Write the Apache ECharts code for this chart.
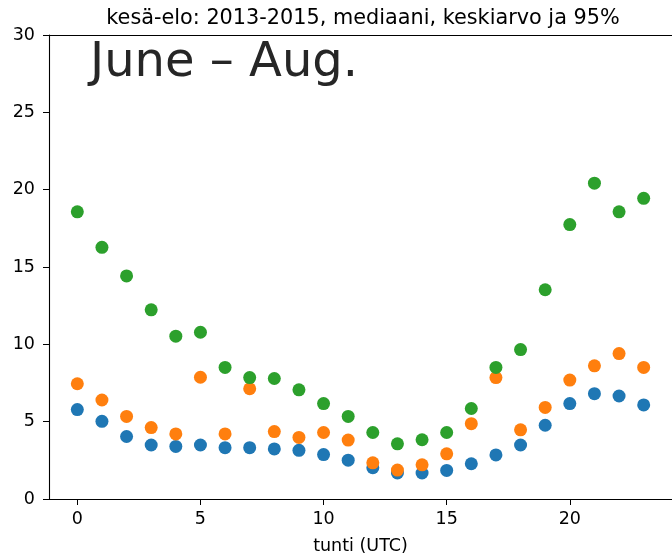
<!DOCTYPE html>
<html>
<head>
<meta charset="utf-8">
<script src="https://cdn.jsdelivr.net/npm/echarts@6/dist/echarts.min.js"></script>
<style>
  html, body { margin: 0; padding: 0; background: #fff; }
  #chart { width: 672px; height: 560px; }
</style>
</head>
<body>
<div id="chart"></div>
<script>
// Hour of day (UTC)
const hours = [0,1,2,3,4,5,6,7,8,9,10,11,12,13,14,15,16,17,18,19,20,21,22,23];

// Median per hour
const median = [5.78,5.02,4.04,3.49,3.40,3.49,3.32,3.32,3.24,3.15,2.87,2.51,
                 2.02,1.68,1.68,1.85,2.28,2.85,3.49,4.77,6.17,6.81,6.66,6.08];

// Mean per hour
const mean = [7.45,6.40,5.34,4.62,4.21,7.87,4.21,7.13,4.36,3.98,4.30,3.81,
              2.34,1.87,2.21,2.92,4.87,7.85,4.47,5.92,7.69,8.61,9.40,8.51];

// 95th percentile per hour
const p95 = [18.57,16.27,14.42,12.23,10.53,10.78,8.51,7.85,7.79,7.06,6.17,5.34,
             4.30,3.57,3.83,4.30,5.85,8.51,9.66,13.53,17.74,20.42,18.57,19.44];

const xTicks = [0,5,10,15,20];
const yTicks = [0,5,10,15,20,25,30];

const titleText = 'kesä-elo: 2013-2015, mediaani, keskiarvo ja 95%';
const periodText = 'June – Aug.';
const xName = 'tunti (UTC)';

const FONT = '"DejaVu Sans", sans-serif';
const xMin = -1.15, xMax = 24.15;

const chart = echarts.init(document.getElementById('chart'), null, { renderer: 'canvas' });

const pts = arr => hours.map((h, i) => [h, arr[i]]);
const scatter = (data, color) => ({
  type: 'scatter',
  data: data,
  symbol: 'circle',
  symbolSize: 13,
  itemStyle: { color: color, opacity: 1 },
  emphasis: { disabled: true },
  silent: true,
  xAxisIndex: 0,
  yAxisIndex: 0
});

chart.setOption({
  animation: false,
  backgroundColor: '#ffffff',
  grid: { left: 49, top: 35, width: 630, height: 470, containLabel: false },
  title: {
    text: titleText,
    left: 358,
    top: 3,
    textAlign: 'center',
    textStyle: { fontFamily: FONT, fontSize: 20.8, fontWeight: 'normal', color: '#000' }
  },
  graphic: [{
    type: 'text',
    left: 90,
    top: 40,
    style: { text: periodText, font: '48px "DejaVu Sans"', fill: '#262626' }
  }],
  xAxis: [{
    type: 'value',
    min: xMin,
    max: xMax,
    position: 'bottom',
    name: xName,
    nameLocation: 'middle',
    nameGap: 38,
    nameTextStyle: { fontFamily: FONT, fontSize: 17.5, color: '#000' },
    axisLine: { show: true, onZero: false, lineStyle: { color: '#000', width: 1.1 } },
    axisTick: { show: true, inside: false, length: 6, customValues: xTicks, lineStyle: { color: '#000', width: 1 } },
    axisLabel: { show: true, margin: 11, customValues: xTicks, fontFamily: FONT, fontSize: 17.5, color: '#000' },
    splitLine: { show: false }
  }, {
    type: 'value',
    min: xMin,
    max: xMax,
    position: 'top',
    axisLine: { show: true, onZero: false, lineStyle: { color: '#000', width: 1.1 } },
    axisTick: { show: false },
    axisLabel: { show: false },
    splitLine: { show: false }
  }],
  yAxis: [{
    type: 'value',
    min: 0,
    max: 30,
    interval: 5,
    position: 'left',
    axisLine: { show: true, onZero: false, lineStyle: { color: '#000', width: 1.1 } },
    axisTick: { show: true, inside: false, length: 6, customValues: yTicks, lineStyle: { color: '#000', width: 1 } },
    axisLabel: { show: true, margin: 14, customValues: yTicks, fontFamily: FONT, fontSize: 17.5, color: '#000' },
    splitLine: { show: false }
  }],
  series: [
    scatter(pts(median), '#1f77b4'),
    scatter(pts(mean), '#ff7f0e'),
    scatter(pts(p95), '#2ca02c')
  ]
});
</script>
</body>
</html>
